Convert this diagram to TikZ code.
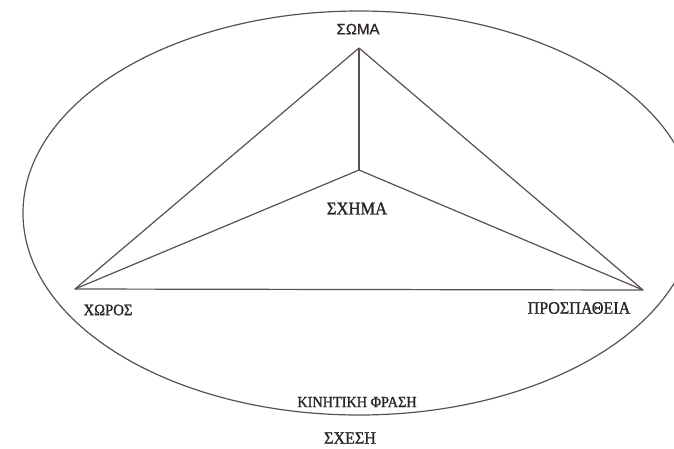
\documentclass[tikz,border=0pt]{standalone}
\usepackage{fontspec}
\setmainfont{Liberation Serif}
\newfontfamily\labserif[FakeBold=1.2, FakeStretch=0.92]{Liberation Serif}
\newfontfamily\labsans[FakeBold=0.8]{Liberation Sans}
\definecolor{ink}{HTML}{5A504D}
\definecolor{txt}{HTML}{2A2424}
\tikzset{
  edge/.style={draw=ink, line width=1.2pt, line join=round},
  lab/.style={inner sep=0pt, text=txt},
}
\begin{document}
\begin{tikzpicture}[x=1pt, y=-1pt]
\useasboundingbox (0,0) rectangle (674,448);
\clip (0,0) rectangle (674,448);
\coordinate (A) at (359,48);
\coordinate (O) at (359,170);
\coordinate (L) at (75,289);
\coordinate (R) at (643,290);
\draw[edge] (359,213) ellipse [x radius=336pt, y radius=202pt];
\draw[edge] (A) -- (L) -- (R) -- cycle;
\draw[edge] (A) -- (O);
\draw[edge] (L) -- (O) -- (R);
\node[lab, font=\labsans\fontsize{15}{15}\selectfont] (soma) at (358,29) {ΣΩΜΑ};
\node[lab, font=\labserif\fontsize{18}{18}\selectfont] (schima) at (357,208.5) {ΣΧΗΜΑ};
\node[lab, font=\labserif\fontsize{16}{16}\selectfont] (choros) at (108,310) {ΧΩΡΟΣ};
\node[lab, font=\labserif\fontsize{17.5}{17.5}\selectfont] (prosp) at (579,308) {ΠΡΟΣΠΑΘΕΙΑ};
\node[lab, font=\labserif\fontsize{15.5}{15.5}\selectfont] (fasi) at (357,402) {ΚΙΝΗΤΙΚΗ ΦΡΑΣΗ};
\node[lab, font=\labserif\fontsize{17.5}{17.5}\selectfont] (sxesi) at (350,438) {ΣΧΕΣΗ};
\end{tikzpicture}
\end{document}
